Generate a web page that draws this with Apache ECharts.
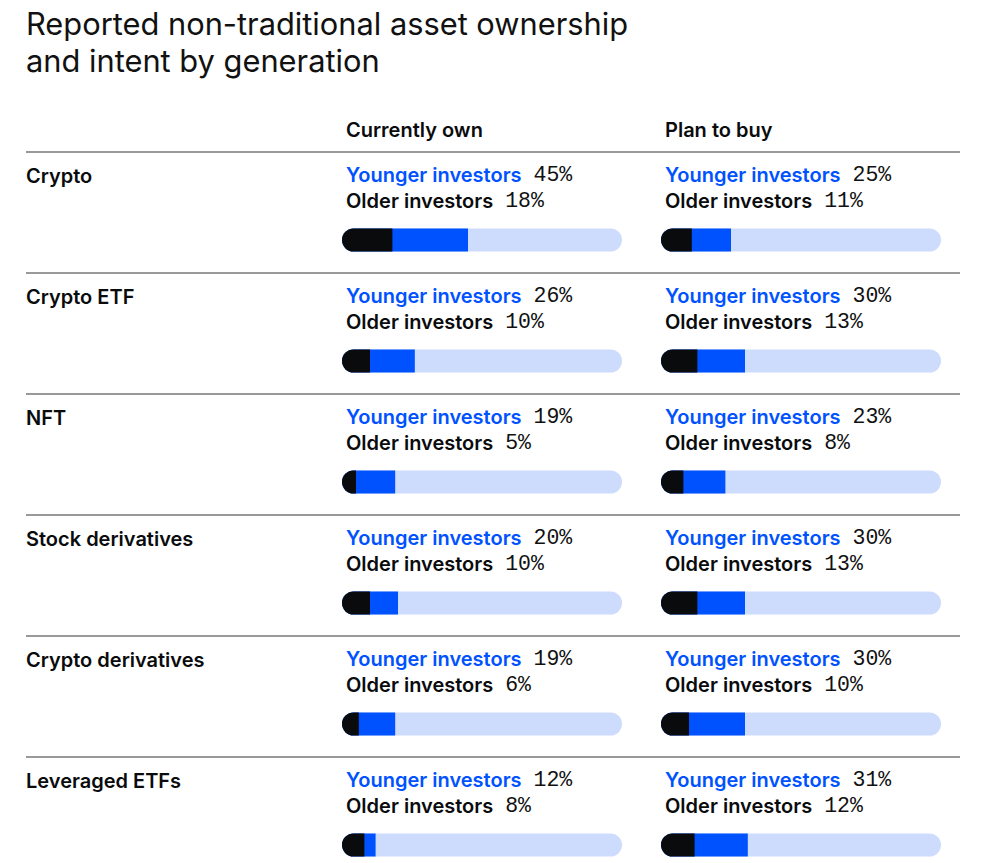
<!DOCTYPE html>
<html>
<head>
<meta charset="utf-8">
<script src="https://cdn.jsdelivr.net/npm/echarts@6/dist/echarts.min.js"></script>
<style>
html,body{margin:0;padding:0;background:#fff;}
#chart{width:983px;height:863px;}
</style>
</head>
<body>
<div id="chart"></div>
<script>
const titleLines = ['Reported non-traditional asset ownership', 'and intent by generation'];
const columns = ['Currently own', 'Plan to buy'];
const categories = ['Crypto', 'Crypto ETF', 'NFT', 'Stock derivatives', 'Crypto derivatives', 'Leveraged ETFs'];
const seriesNames = ['Younger investors', 'Older investors'];
const ownYounger = [45, 26, 19, 20, 19, 12];
const ownOlder = [18, 10, 5, 10, 6, 8];
const planYounger = [25, 30, 23, 30, 30, 31];
const planOlder = [11, 13, 8, 13, 10, 12];

const BLUE = '#0052FF';
const BLACK = '#0A0B0D';
const TRACK = '#CDDCFD';
const SANS = 'Inter, "Noto Sans", sans-serif';
const MONO = '"Liberation Mono", "DejaVu Sans Mono", monospace';

const colData = [
  { younger: ownYounger, older: ownOlder },
  { younger: planYounger, older: planOlder }
];

const ROW_H = 121;
const COL_W = 319;
const TRACK_LEFT = 342;
const TEXT_LEFT = 346;

const grids = [], xAxes = [], yAxes = [], series = [], graphics = [];

// title
graphics.push({
  type: 'text', left: 26, top: 5,
  style: { text: titleLines.join('\n'), font: '400 30.8px ' + SANS, fill: '#111', lineHeight: 37 }
});
// column headers
columns.forEach((c, j) => {
  graphics.push({
    type: 'text', x: TEXT_LEFT + COL_W * j, y: 130,
    style: { text: c, font: '600 20px ' + SANS, fill: '#0A0B0D', verticalAlign: 'middle' }
  });
});
// separators
for (let k = 0; k < categories.length; k++) {
  graphics.push({
    type: 'line', shape: { x1: 26, y1: 152 + ROW_H * k, x2: 960, y2: 152 + ROW_H * k },
    style: { stroke: '#777', lineWidth: 1.5 }
  });
}

categories.forEach((cat, i) => {
  graphics.push({
    type: 'text', x: 26, y: 175.5 + ROW_H * i,
    style: { text: cat, font: '600 20px ' + SANS, fill: '#0A0B0D', verticalAlign: 'middle' }
  });
  colData.forEach((cd, j) => {
    const gi = grids.length;
    const yv = cd.younger[i], ov = cd.older[i];
    graphics.push({
      type: 'text', x: TEXT_LEFT + COL_W * j, y: 175 + ROW_H * i,
      style: {
        text: '{a|' + seriesNames[0] + '}{b|' + yv + '%}',
        verticalAlign: 'middle',
        rich: {
          a: { font: '600 20px ' + SANS, fill: BLUE },
          b: { font: '400 21.5px ' + MONO, fill: '#111', padding: [0, 0, 0, 12] }
        }
      }
    });
    graphics.push({
      type: 'text', x: TEXT_LEFT + COL_W * j, y: 201 + ROW_H * i,
      style: {
        text: '{a|' + seriesNames[1] + '}{b|' + ov + '%}',
        verticalAlign: 'middle',
        rich: {
          a: { font: '600 20px ' + SANS, fill: BLACK },
          b: { font: '400 21.5px ' + MONO, fill: '#111', padding: [0, 0, 0, 12] }
        }
      }
    });
    grids.push({ left: TRACK_LEFT + COL_W * j, top: 228.5 + ROW_H * i, width: 280, height: 23, containLabel: false });
    xAxes.push({ type: 'value', min: 0, max: 100, show: false, gridIndex: gi });
    yAxes.push({ type: 'category', data: [cat], show: false, gridIndex: gi });
    series.push({
      type: 'bar', xAxisIndex: gi, yAxisIndex: gi, data: [100], barWidth: 23, barGap: '-100%', silent: true,
      itemStyle: { color: TRACK, borderRadius: 11.5 }, animation: false
    });
    series.push({
      type: 'bar', name: seriesNames[0], xAxisIndex: gi, yAxisIndex: gi, data: [yv], barWidth: 23, barGap: '-100%',
      itemStyle: { color: BLUE, borderRadius: [11.5, 0, 0, 11.5] }, animation: false
    });
    series.push({
      type: 'bar', name: seriesNames[1], xAxisIndex: gi, yAxisIndex: gi, data: [ov], barWidth: 23, barGap: '-100%',
      itemStyle: { color: BLACK, borderRadius: [11.5, 0, 0, 11.5] }, animation: false
    });
  });
});

const chart = echarts.init(document.getElementById('chart'), null, { renderer: 'svg' });
chart.setOption({
  backgroundColor: '#fff',
  animation: false,
  grid: grids,
  xAxis: xAxes,
  yAxis: yAxes,
  series: series,
  graphic: graphics
});
</script>
</body>
</html>
